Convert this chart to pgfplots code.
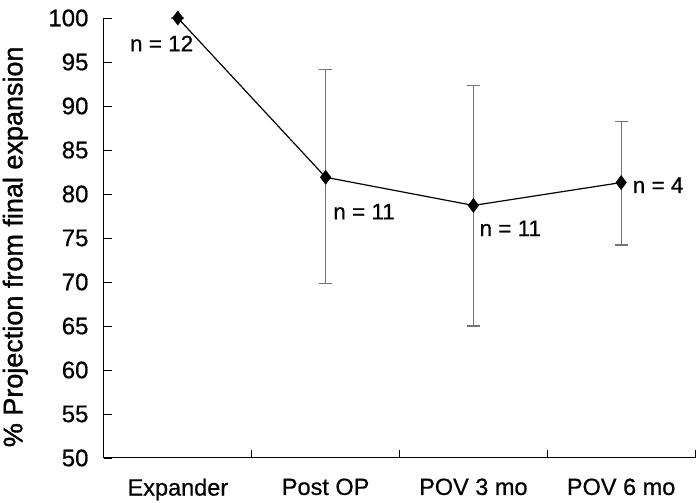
\documentclass[border=0pt]{standalone}
\usepackage{fontspec}
\setmainfont{Liberation Sans}[FakeBold=0.6]
\newfontfamily\ylfont{Liberation Sans}[FakeBold=1.3]
\usepackage{pgfplots}
\pgfplotsset{compat=1.18}
\begin{document}
\begin{tikzpicture}
\begin{axis}[
  name=ax,
  scale only axis,
  width=591pt, height=440pt,
  xmin=-0.5, xmax=3.5,
  ymin=50, ymax=100,
  axis x line*=bottom, axis y line*=left,
  axis line style={-, line width=1pt},
  tick align=inside,
  ytick={50,55,...,100},
  xtick={0,1,2,3},
  xticklabels={Expander, Post OP, POV 3 mo, POV 6 mo},
  minor xtick={0.5,1.5,2.5,3.5},
  major tick length=8pt, minor tick length=8pt,
  major x tick style={draw=none},
  every tick/.style={black, line width=0.8pt},
  /pgf/number format/assume math mode=true,
  yticklabel style={font=\fontsize{24}{24}\selectfont},
  yticklabel shift=12pt,
  xticklabel style={font=\fontsize{23.5}{23.5}\selectfont, yshift=-17pt},
  ylabel={\% Projection from final expansion},
  ylabel style={font=\ylfont\fontsize{27}{27}\selectfont, at={(axis description cs:-0.150,0.48)}, anchor=center},
  clip=false,
]
\addplot[black, line width=1.2pt, mark=diamond*, mark size=6.5pt, mark options={fill=black},
  error bars/.cd, y dir=both, y explicit,
  error bar style={black!55, line width=1.1pt},
  error mark options={rotate=90, mark size=6.5pt, black!55, line width=1.1pt}]
  table[x=x, y=y, y error plus=ep, y error minus=em] {
x y ep em
0 100.0 0 0
1 81.9 12.2 12.1
2 78.7 13.6 13.7
3 81.3 6.9 7.1
};
\node[font=\fontsize{22.5}{22.5}\selectfont] at (axis cs:-0.11,97.1) {n = 12};
\node[font=\fontsize{22.5}{22.5}\selectfont] at (axis cs:1.26,78.0) {n = 11};
\node[font=\fontsize{22.5}{22.5}\selectfont] at (axis cs:2.25,76.1) {n = 11};
\node[font=\fontsize{22.5}{22.5}\selectfont] at (axis cs:3.25,81.0) {n = 4};
\end{axis}
\pgfresetboundingbox
\path ([xshift=-104pt,yshift=-45pt]ax.south west) rectangle ([xshift=1pt,yshift=18pt]ax.north east);
\end{tikzpicture}
\end{document}
